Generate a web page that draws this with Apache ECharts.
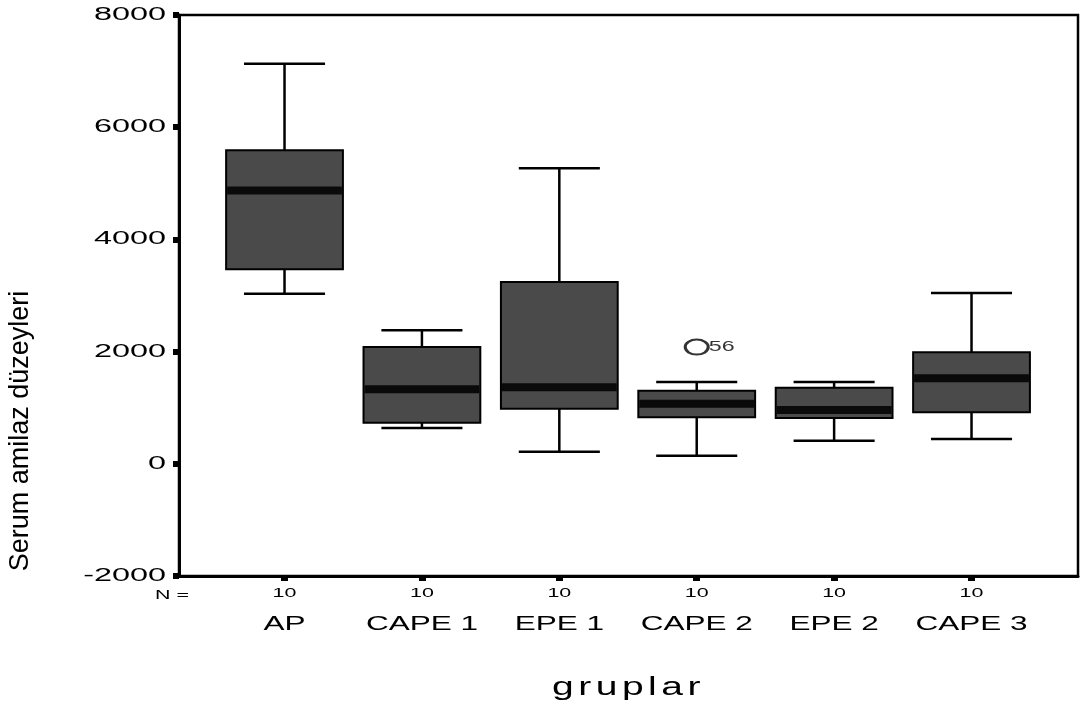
<!DOCTYPE html>
<html>
<head>
<meta charset="utf-8">
<title>Serum amilaz düzeyleri</title>
<script src="https://cdn.jsdelivr.net/npm/echarts@6/dist/echarts.min.js"></script>
<style>
  html, body { margin: 0; padding: 0; background: #fff; }
  #chart { width: 1085px; height: 713px; }
</style>
</head>
<body>
<div id="chart"></div>
<script>
// ---- data -------------------------------------------------------------
const categories  = ['AP', 'CAPE 1', 'EPE 1', 'CAPE 2', 'EPE 2', 'CAPE 3'];
const nCounts     = [10, 10, 10, 10, 10, 10];
const whiskerLow  = [3030,  640,  215,  145,  410,  440];
const quartile1   = [3470,  730,  980,  830,  815,  920];
const medians     = [4870, 1330, 1365, 1070,  960, 1525];
const quartile3   = [5590, 2080, 3240, 1300, 1355, 1990];
const whiskerHigh = [7130, 2380, 5270, 1460, 1460, 3045];
const outlierGroup = ['CAPE 2'];
const outlierValue = [2080];
const outlierCase  = ['56'];
const yTicks = [-2000, 0, 2000, 4000, 6000, 8000];

// ---- wide sans face ----------------------------------------------------
// The lettering is an extended grotesque; Liberation Sans is stretched
// horizontally when drawn (factor by font size, optional tracking).
const TEXT_STRETCH  = { 18: 1.8, 21: 1.5, 13: 1.65, 15: 1.55, 26: 1.5 };
const TEXT_TRACKING = { 26: '3px' };
(function () {
  const proto = CanvasRenderingContext2D.prototype;
  const baseFill = proto.fillText;
  proto.fillText = function (text, x, y) {
    const m = /(\d+(?:\.\d+)?)px/.exec(this.font);
    const size = m ? Math.round(parseFloat(m[1])) : 0;
    const sx = TEXT_STRETCH[size] || 1;
    const t = this.getTransform();
    const rotated = Math.abs(t.b) > 1e-6 || Math.abs(t.c) > 1e-6;
    if (sx === 1 || rotated) {
      return baseFill.apply(this, arguments);
    }
    this.save();
    if (TEXT_TRACKING[size] && 'letterSpacing' in this) this.letterSpacing = TEXT_TRACKING[size];
    this.translate(x, y);
    this.scale(sx, 1);
    baseFill.call(this, text, 0, 0);
    this.restore();
  };
})();

// ---- chart -------------------------------------------------------------
const FONT = 'Liberation Sans';
const X_MIN = 0.232, X_MAX = 6.775;   // group slots 1..6 inside the frame
const BOX_HALF = 0.425, CAP_HALF = 0.295;
const positions = categories.map((c, i) => i + 1);

const boxData = categories.map((c, i) => [
  i + 1, whiskerLow[i], quartile1[i], medians[i], quartile3[i], whiskerHigh[i]
]);
const outlierData = outlierGroup.map((g, k) => ({
  value: [categories.indexOf(g) + 1, outlierValue[k]],
  caseId: outlierCase[k]
}));

function renderBox(params, api) {
  const x = api.value(0);
  const lo = api.coord([x, api.value(1)]);
  const q1 = api.coord([x, api.value(2)]);
  const md = api.coord([x, api.value(3)]);
  const q3 = api.coord([x, api.value(4)]);
  const hi = api.coord([x, api.value(5)]);
  const hb = api.size([BOX_HALF, 0])[0];
  const hc = api.size([CAP_HALF, 0])[0];
  const cx = lo[0];
  const stroke = { stroke: '#000', lineWidth: 2.5 };
  return {
    type: 'group',
    children: [
      { type: 'line', shape: { x1: cx, y1: lo[1], x2: cx, y2: hi[1] }, style: stroke },
      { type: 'line', shape: { x1: cx - hc, y1: lo[1], x2: cx + hc, y2: lo[1] }, style: stroke },
      { type: 'line', shape: { x1: cx - hc, y1: hi[1], x2: cx + hc, y2: hi[1] }, style: stroke },
      { type: 'rect',
        shape: { x: cx - hb, y: q3[1], width: 2 * hb, height: q1[1] - q3[1] },
        style: { fill: '#4a4a4a', stroke: '#000', lineWidth: 2 } },
      { type: 'line', shape: { x1: cx - hb + 1, y1: md[1], x2: cx + hb - 1, y2: md[1] },
        style: { stroke: '#0a0a0a', lineWidth: 8 } }
    ]
  };
}

const chart = echarts.init(document.getElementById('chart'), null, { renderer: 'canvas' });
chart.setOption({
  animation: false,
  backgroundColor: '#fff',
  grid: {
    left: 179, right: 7, top: 15, bottom: 137,
    show: true, borderColor: '#000', borderWidth: 2.5, backgroundColor: 'transparent',
    containLabel: false, outerBoundsMode: 'none'
  },
  xAxis: [
    {
      type: 'value', min: X_MIN, max: X_MAX, position: 'bottom',
      name: 'gruplar', nameLocation: 'middle', nameGap: 99,
      nameTextStyle: { fontFamily: FONT, fontSize: 26, color: '#000' },
      axisLine: { show: true, onZero: false, lineStyle: { color: '#000', width: 3 } },
      axisTick: { show: true, customValues: positions, length: 5, inside: false,
                  lineStyle: { color: '#000', width: 7 } },
      axisLabel: { show: true, customValues: positions, margin: 11,
                   formatter: v => String(nCounts[Math.round(v) - 1]),
                   fontFamily: FONT, fontSize: 13, color: '#000' },
      splitLine: { show: false }
    },
    {
      type: 'value', min: X_MIN, max: X_MAX, position: 'bottom', gridIndex: 0,
      axisLine: { show: false }, axisTick: { show: false }, splitLine: { show: false },
      axisLabel: { show: true, customValues: positions, margin: 38,
                   formatter: v => categories[Math.round(v) - 1],
                   fontFamily: FONT, fontSize: 21, color: '#000' }
    }
  ],
  yAxis: {
    type: 'value', min: yTicks[0], max: yTicks[yTicks.length - 1], interval: 2000,
    axisLine: { show: true, onZero: false, lineStyle: { color: '#000', width: 3 } },
    axisTick: { show: true, length: 6, inside: false, lineStyle: { color: '#000', width: 6 } },
    axisLabel: { margin: 13, fontFamily: FONT, fontSize: 18, color: '#000',
                 formatter: v => String(v) },
    splitLine: { show: false }
  },
  graphic: [
    { type: 'text', x: 155, y: 595,
      style: { text: 'N =', fontFamily: FONT, fontSize: 13, fill: '#000',
               align: 'left', verticalAlign: 'middle' } },
    { type: 'text', x: 21, y: 431, rotation: Math.PI / 2,
      style: { text: 'Serum amilaz düzeyleri', fontFamily: FONT, fontSize: 27, fill: '#000',
               align: 'center', verticalAlign: 'middle' } }
  ],
  series: [
    {
      type: 'custom', xAxisIndex: 0, yAxisIndex: 0,
      renderItem: renderBox,
      encode: { x: 0, y: [1, 2, 3, 4, 5] },
      data: boxData,
      z: 2
    },
    {
      type: 'scatter', xAxisIndex: 0, yAxisIndex: 0,
      symbol: 'circle', symbolSize: [23, 15],
      itemStyle: { color: '#fff', borderColor: '#000', borderWidth: 2.5 },
      label: { show: true, position: 'right', distance: -1,
               formatter: p => p.data.caseId,
               fontFamily: FONT, fontSize: 15, color: '#000' },
      data: outlierData,
      z: 3
    }
  ]
});
</script>
</body>
</html>
